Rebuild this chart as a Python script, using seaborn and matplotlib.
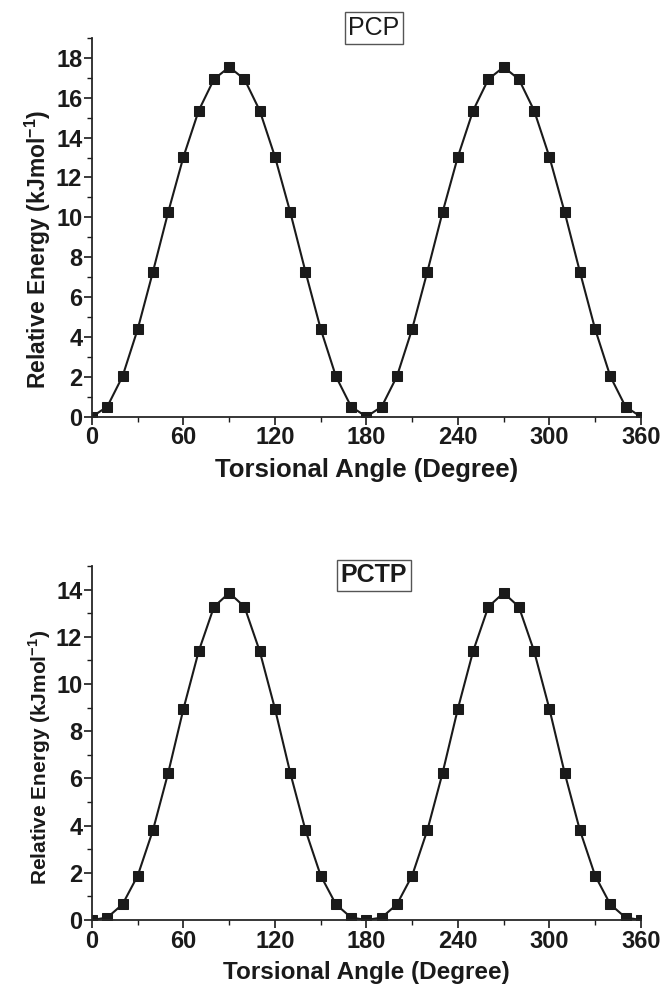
import numpy as np
import pandas as pd
import matplotlib
matplotlib.use('Agg')
import matplotlib.pyplot as plt
from matplotlib.ticker import MultipleLocator
import seaborn as sns

# torsional angle scan, 0..360 step 10
angles = list(range(0, 361, 10))

# PCP relative energies (kJ/mol)
pcp_half = [0.0, 0.50, 2.02, 4.40, 7.28, 10.27, 13.04, 15.36, 16.93, 17.54,
            16.93, 15.36, 13.04, 10.27, 7.28, 4.40, 2.02, 0.50]
pcp_energy = pcp_half + pcp_half + [0.0]

# PCTP relative energies (kJ/mol)
pctp_half = [0.0, 0.10, 0.66, 1.88, 3.81, 6.24, 8.95, 11.39, 13.27, 13.86,
             13.27, 11.39, 8.95, 6.24, 3.81, 1.88, 0.66, 0.10]
pctp_energy = pctp_half + pctp_half + [0.0]

x_ticks = [0, 60, 120, 180, 240, 300, 360]

sns.set_style("ticks")
plt.rcParams['font.family'] = ['Liberation Sans', 'DejaVu Sans']
plt.rcParams['font.weight'] = 'bold'
plt.rcParams['axes.linewidth'] = 1.3
plt.rcParams['mathtext.fontset'] = 'custom'
plt.rcParams['mathtext.rm'] = 'Liberation Sans:bold'
plt.rcParams['mathtext.bf'] = 'Liberation Sans:bold'

fig = plt.figure(figsize=(6.62, 9.86), dpi=100)
ax1 = fig.add_axes([0.139, 0.5774, 0.829, 0.3841])
ax2 = fig.add_axes([0.139, 0.067, 0.829, 0.359])


def draw(ax, energy, ymax, name, title_y, title_weight, ylab_size, ylab_y, xlab_y, xlab_size):
    df = pd.DataFrame({'angle': angles, 'energy': energy})
    sns.lineplot(data=df, x='angle', y='energy', ax=ax, color='#1a1a1a',
                 marker='s', markersize=7, markeredgecolor='#1a1a1a',
                 linewidth=1.5, clip_on=True)
    ax.set_xlim(0, 360)
    ax.set_ylim(0, ymax)
    ax.set_xticks(x_ticks)
    ax.xaxis.set_minor_locator(MultipleLocator(30))
    ax.yaxis.set_major_locator(MultipleLocator(2))
    ax.yaxis.set_minor_locator(MultipleLocator(1))
    ax.tick_params(which='major', direction='out', length=5.5, width=1.2,
                   labelsize=17, pad=1.5, colors='#1a1a1a')
    ax.tick_params(which='minor', direction='out', length=3.5, width=1.0,
                   colors='#1a1a1a')
    for lab in ax.get_xticklabels() + ax.get_yticklabels():
        lab.set_fontweight('bold')
    sns.despine(ax=ax)
    ax.set_xlabel('Torsional Angle (Degree)', fontsize=xlab_size, fontweight='bold',
                  color='#1a1a1a')
    ax.xaxis.set_label_coords(0.5, xlab_y)
    ax.set_ylabel('Relative Energy (kJmol$^{\\mathrm{-1}}$)', fontsize=ylab_size,
                  fontweight='bold', color='#1a1a1a')
    ax.yaxis.set_label_coords(-0.072, ylab_y)
    ax.text(185, title_y, name, transform=ax.transData, ha='center',
            va='center', fontsize=18, fontweight=title_weight,
            color='#1a1a1a', clip_on=False,
            bbox=dict(boxstyle='square,pad=0.15', fc='white', ec='#555555',
                      lw=1.0))


draw(ax1, pcp_energy, 19, 'PCP', 19.5, 'normal', 16.5, 0.443, -0.11, 18.5)
draw(ax2, pctp_energy, 15, 'PCTP', 14.6, 'bold', 15, 0.459, -0.115, 17.5)

fig.savefig('out.png', dpi=100)
